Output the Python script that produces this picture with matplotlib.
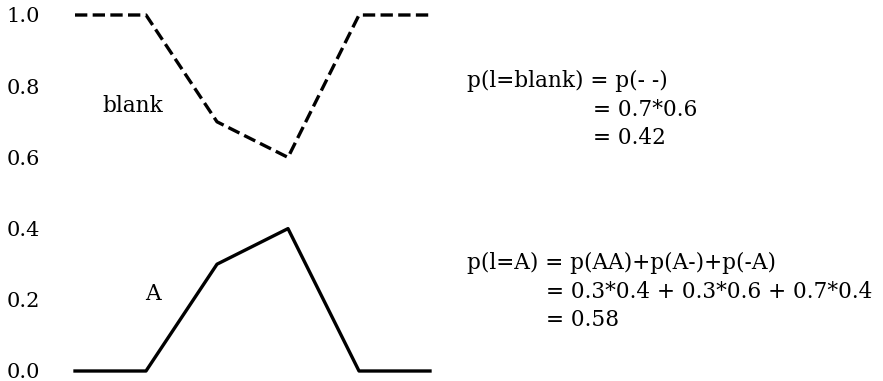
import matplotlib.pyplot as plt

plt.rcParams['font.family'] = ['DejaVu Serif', 'DejaVu Sans']

# positions along the sequence
steps = [0, 1, 2, 3, 4, 5]
p_blank = [1.0, 1.0, 0.7, 0.6, 1.0, 1.0]
p_A = [0.0, 0.0, 0.3, 0.4, 0.0, 0.0]
y_ticks = [0.0, 0.2, 0.4, 0.6, 0.8, 1.0]

blank_lines = ['p(l=blank) = p(- -)', '= 0.7*0.6', '= 0.42']
a_lines = ['p(l=A) = p(AA)+p(A-)+p(-A)', '= 0.3*0.4 + 0.3*0.6 + 0.7*0.4', '= 0.58']

fs = 15.6

fig = plt.figure(figsize=(8.83, 3.81), dpi=100)
ax = fig.add_axes([75 / 883, 10 / 381, 355 / 883, 356 / 381])

ax.plot(steps, p_blank, 'k--', linewidth=2.4, clip_on=False)
ax.plot(steps, p_A, 'k-', linewidth=2.4, clip_on=False)
ax.set_xlim(0, 5)
ax.set_ylim(0, 1)
ax.set_yticks(y_ticks)
ax.set_yticklabels([f'{t:.1f}' for t in y_ticks])
ax.set_xticks([])
ax.tick_params(axis='y', length=0, pad=25, labelsize=15)
for s in ax.spines.values():
    s.set_visible(False)

ax.text(0.817, 0.7275, 'blank', fontsize=fs, ha='center', va='baseline')
ax.text(1.099, 0.199, 'A', fontsize=fs, ha='center', va='baseline')

# equations to the right of the plot
row_gap = 0.0795
ax.text(5.52, 0.797, blank_lines[0], fontsize=fs, va='baseline', clip_on=False)
for i, s in enumerate(blank_lines[1:]):
    ax.text(7.30, 0.797 - row_gap * (i + 1), s, fontsize=fs, va='baseline', clip_on=False)

ax.text(5.52, 0.2857, a_lines[0], fontsize=fs, va='baseline', clip_on=False)
for i, s in enumerate(a_lines[1:]):
    ax.text(6.64, 0.2857 - row_gap * (i + 1), s, fontsize=fs, va='baseline', clip_on=False)

fig.savefig('out.png', dpi=100)
